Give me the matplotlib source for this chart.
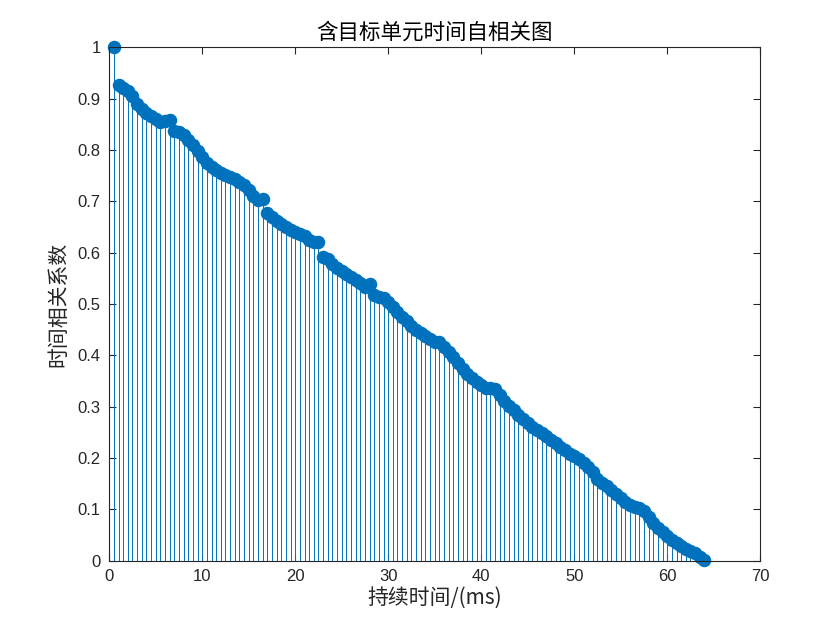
import matplotlib
matplotlib.use("Agg")
import matplotlib.pyplot as plt
import numpy as np

lags_ms = [0.5 * (i + 1) for i in range(128)]
corr = [
    1.000, 0.927, 0.921, 0.915, 0.905, 0.890, 0.880, 0.872, 0.866, 0.860,
    0.855, 0.857, 0.858, 0.837, 0.834, 0.829, 0.820, 0.810, 0.798, 0.786,
    0.775, 0.767, 0.761, 0.756, 0.751, 0.747, 0.743, 0.737, 0.731, 0.722,
    0.710, 0.702, 0.705, 0.677, 0.669, 0.662, 0.656, 0.650, 0.644, 0.640,
    0.637, 0.632, 0.624, 0.620, 0.621, 0.592, 0.588, 0.578, 0.571, 0.565,
    0.559, 0.553, 0.547, 0.540, 0.534, 0.538, 0.517, 0.514, 0.512, 0.504,
    0.495, 0.485, 0.475, 0.466, 0.457, 0.450, 0.443, 0.437, 0.432, 0.426,
    0.425, 0.417, 0.406, 0.396, 0.385, 0.373, 0.363, 0.355, 0.348, 0.342,
    0.337, 0.336, 0.334, 0.323, 0.312, 0.302, 0.293, 0.284, 0.276, 0.268,
    0.261, 0.255, 0.248, 0.242, 0.236, 0.229, 0.222, 0.215, 0.208, 0.203,
    0.198, 0.190, 0.182, 0.172, 0.160, 0.152, 0.145, 0.138, 0.130, 0.122,
    0.115, 0.109, 0.104, 0.102, 0.096, 0.085, 0.074, 0.064, 0.056, 0.048,
    0.041, 0.035, 0.028, 0.022, 0.018, 0.015, 0.008, 0.001,
]
x_ticks = [0, 10, 20, 30, 40, 50, 60, 70]
y_ticks = [0, 0.1, 0.2, 0.3, 0.4, 0.5, 0.6, 0.7, 0.8, 0.9, 1]
y_tick_labels = ["0", "0.1", "0.2", "0.3", "0.4", "0.5", "0.6", "0.7", "0.8", "0.9", "1"]

title = "含目标单元时间自相关图"
xlabel = "持续时间/(ms)"
ylabel = "时间相关系数"

cjk = ["Noto Sans CJK SC", "DejaVu Sans"]
num_font = ["Liberation Sans", "DejaVu Sans"]
color = "#0072BD"
axc = "#262626"

fig = plt.figure(figsize=(8.4, 6.3), dpi=100)
ax = fig.add_axes([0.13, 0.11, 0.775, 0.815])

markerline, stemlines, baseline = ax.stem(lags_ms, corr, basefmt=" ")
plt.setp(stemlines, color=color, linewidth=0.7)
plt.setp(markerline, color=color, marker="o", markersize=8.7,
         markerfacecolor=color, markeredgecolor=color, clip_on=False)

ax.set_xlim(0, 70)
ax.set_ylim(0, 1)
ax.set_xticks(x_ticks)
ax.set_xticklabels([str(v) for v in x_ticks], family=num_font, fontsize=12, color=axc)
ax.set_yticks(y_ticks)
ax.set_yticklabels(y_tick_labels, family=num_font, fontsize=12, color=axc)
ax.tick_params(direction="in", length=5, width=0.8, colors=axc, top=True, right=True,
               labeltop=False, labelright=False, pad=6)
for s in ax.spines.values():
    s.set_color(axc)
    s.set_linewidth(0.8)

ax.set_title(title, family=cjk, fontsize=15.5, color="black", pad=6)
ax.set_xlabel(xlabel, family=cjk, fontsize=15, color=axc, labelpad=2)
ax.set_ylabel(ylabel, family=cjk, fontsize=15, color=axc, labelpad=6)

fig.savefig("out.png", dpi=100)
